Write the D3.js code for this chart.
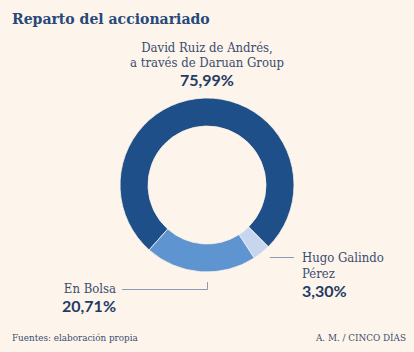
<!DOCTYPE html>
<html>
<head>
<meta charset="utf-8">
<script src="https://cdn.jsdelivr.net/npm/d3@7"></script>
<style>
  body { margin: 0; background: #fdf4eb; }
  svg { display: block; }
</style>
</head>
<body>
<div id="chart-area"></div>
<script>
/*
*    reparto del accionariado - donut
*/

var categories = ["David Ruiz de Andrés", "Hugo Galindo Pérez", "En Bolsa"];
var values = [75.99, 3.30, 20.71];
var valueLabels = ["75,99%", "3,30%", "20,71%"];
var colors = ["#1f4f88", "#c7d6ef", "#5e95d0"];

var width = 414;
var height = 352;

var svg = d3.select("#chart-area").append("svg")
    .attr("width", width)
    .attr("height", height);

svg.append("rect")
    .attr("width", width)
    .attr("height", height)
    .attr("fill", "#fdf4eb");

var labelFont = "DejaVu Serif";
var labelColor = "#3b4d6e";
var pctFont = "Lato";
var pctColor = "#1f3b63";

// Title
svg.append("text")
    .attr("x", 12)
    .attr("y", 24)
    .attr("font-family", labelFont)
    .attr("font-weight", "bold")
    .attr("font-stretch", "condensed")
    .attr("font-size", "15.6px")
    .attr("fill", "#26497a")
    .text("Reparto del accionariado");

var cx = 207, cy = 185;
var outerR = 87, innerR = 59;

var pie = d3.pie()
    .sort(null)
    .startAngle(-138.3 * Math.PI / 180)
    .endAngle((360 - 138.3) * Math.PI / 180);

var arc = d3.arc()
    .innerRadius(innerR)
    .outerRadius(outerR);

var g = svg.append("g")
    .attr("transform", "translate(" + cx + ", " + cy + ")");

g.selectAll("path")
    .data(pie(values))
    .enter()
    .append("path")
    .attr("d", arc)
    .attr("fill", (d, i) => { return colors[i]; })
    .attr("stroke", "#fdf4eb")
    .attr("stroke-width", 0.8);

function label(parent, x, y, txt, bold) {
    return parent.append("text")
        .attr("x", x).attr("y", y)
        .attr("font-family", bold ? pctFont : labelFont)
        .attr("font-weight", bold ? "bold" : "normal")
        .attr("font-stretch", bold ? "normal" : "condensed")
        .attr("font-size", bold ? "16px" : "13px")
        .attr("fill", bold ? pctColor : labelColor)
        .text(txt);
}

// Top label
var topLabel = svg.append("g").attr("text-anchor", "middle");
label(topLabel, 207, 52, "David Ruiz de Andrés,", false);
label(topLabel, 207, 67, "a través de Daruan Group", false);
label(topLabel, 207, 86, valueLabels[0], true);

// Hugo Galindo label
svg.append("line")
    .attr("x1", 270).attr("x2", 294)
    .attr("y1", 257.5).attr("y2", 257.5)
    .attr("stroke", "#8f9bb3").attr("stroke-width", 1);
var rightLabel = svg.append("g").attr("text-anchor", "start");
label(rightLabel, 302, 262, "Hugo Galindo", false);
label(rightLabel, 302, 278, "Pérez", false);
label(rightLabel, 302, 297, valueLabels[1], true);

// En Bolsa label
svg.append("path")
    .attr("d", "M122,289.5H207.5V282")
    .attr("fill", "none")
    .attr("stroke", "#8f9bb3").attr("stroke-width", 1);
var leftLabel = svg.append("g").attr("text-anchor", "end");
label(leftLabel, 116, 293, "En Bolsa", false);
label(leftLabel, 116, 312, valueLabels[2], true);

// Footer
svg.append("text")
    .attr("x", 12).attr("y", 341)
    .attr("font-family", labelFont).attr("font-stretch", "condensed")
    .attr("font-size", "9.8px")
    .attr("fill", labelColor)
    .text("Fuentes: elaboración propia");
svg.append("text")
    .attr("x", 406).attr("y", 341)
    .attr("text-anchor", "end")
    .attr("font-family", labelFont).attr("font-stretch", "condensed")
    .attr("font-size", "9.8px")
    .attr("fill", labelColor)
    .text("A. M. / CINCO DÍAS");
</script>
</body>
</html>
